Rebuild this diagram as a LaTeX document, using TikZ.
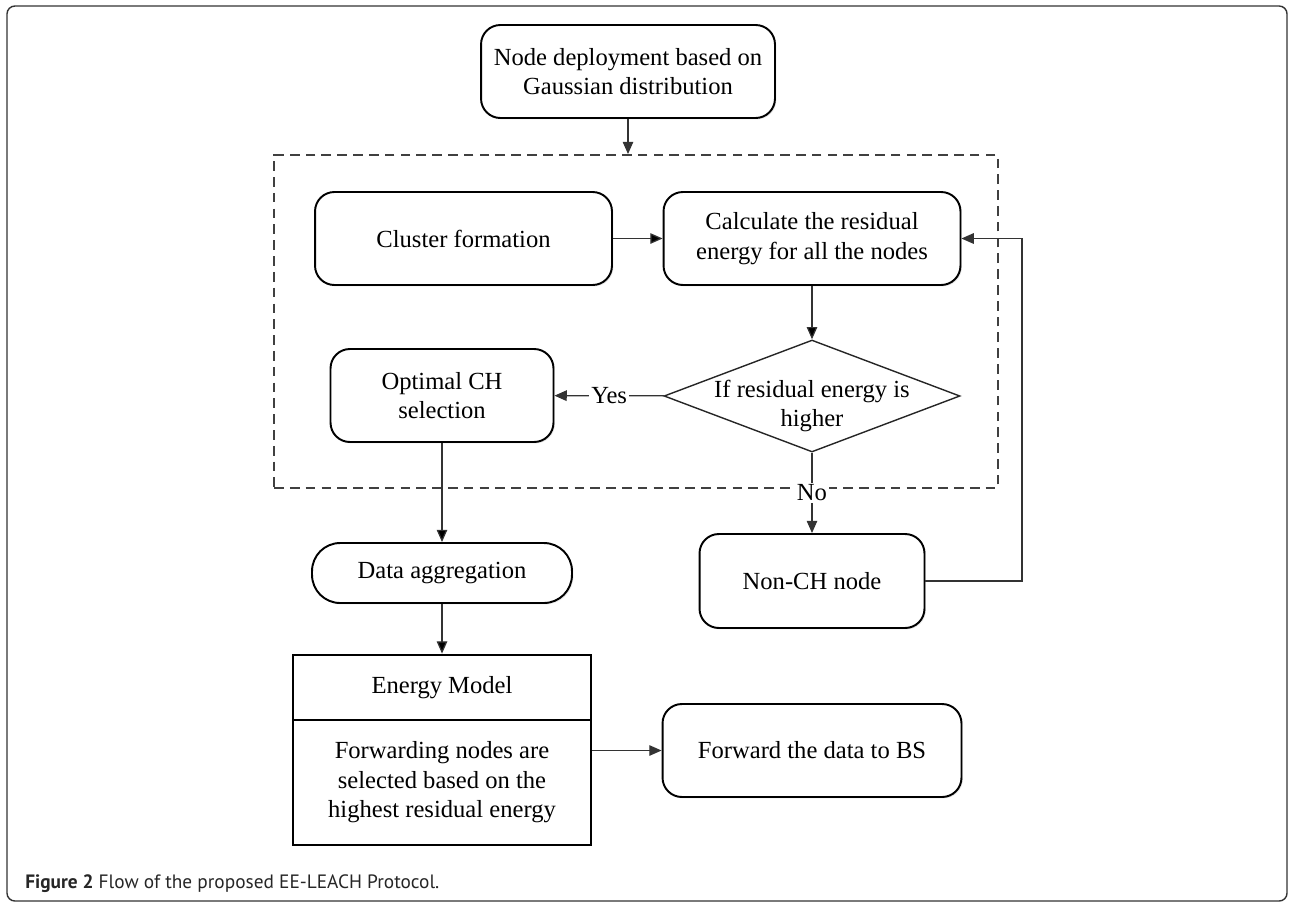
\documentclass[tikz,border=0pt]{standalone}
\usepackage{fontspec}
\setmainfont{Liberation Serif}
\newfontfamily\capfont{PT Sans}
\usetikzlibrary{arrows.meta, shapes.geometric, shadows}

\begin{document}
\begin{tikzpicture}[x = 0.02cm, y = -0.02cm, font = \fontsize{14}{16.8}\selectfont,
    >= {Triangle[length = 7pt, width = 6pt]},
    roundbox/.style = {draw, line width = 1.1pt, rounded corners = 11pt, align = center, fill = white,
                       drop shadow = {opacity = 0.2, shadow xshift = 0.8pt, shadow yshift = -0.8pt}},
    modelbox/.style = {draw, line width = 1.6pt, minimum width = 5.96cm, align = center, fill = white,
                       drop shadow = {opacity = 0.2, shadow xshift = 0.8pt, shadow yshift = -0.8pt}},
    decision/.style = {diamond, draw = black!85, line width = 0.8pt, inner sep = 0pt},
    link/.style = {->, line width = 0.7pt, draw = black!80},
    tag/.style = {fill = white, inner sep = 1pt}]
  \useasboundingbox (0,0) rectangle (1290,903);
  \draw[line width = 0.8pt, draw = black!80, rounded corners = 4.5pt] (7,6) rectangle (1287,901);

  \node[draw = black!75, line width = 1.1pt, dash pattern = on 5.5pt off 3.5pt,
        minimum width = 14.48cm, minimum height = 6.66cm] (loop) at (636,321.5) {};

  \node[roundbox, minimum width = 5.88cm, minimum height = 1.86cm] (deploy) at (628,71.5) {Node deployment based on\\Gaussian distribution};
  \node[roundbox, minimum width = 5.94cm, minimum height = 1.86cm] (cluster) at (463.5,238.5) {Cluster formation};
  \node[roundbox, minimum width = 5.94cm, minimum height = 1.86cm] (calc) at (812,238.5) {Calculate the residual\\energy for all the nodes};
  \node[decision, minimum width = 5.92cm, minimum height = 2.24cm] (decide) at (812,396) {};
  \node[align = center] (decidetext) at (812,406) {If residual energy is\\higher};
  \node[roundbox, minimum width = 4.46cm, minimum height = 1.86cm] (optimal) at (442,395.5) {Optimal CH\\selection};
  \node[roundbox, minimum width = 4.5cm, minimum height = 1.88cm] (nonch) at (812,581) {Non-CH node};
  \node[roundbox, rounded corners = 16pt, minimum width = 5.2cm, minimum height = 1.2cm] (dataagg) at (442,573) {Data aggregation};
  \node[modelbox, minimum height = 1.3cm] (emhead) at (442,687.5) {Energy Model};
  \node[modelbox, minimum height = 2.5cm] (embody) at (442,782.5) {Forwarding nodes are\\selected based on the\\highest residual energy};
  \node[roundbox, minimum width = 5.98cm, minimum height = 1.86cm] (forward) at (812,750.5) {Forward the data to BS};

  \coordinate (back) at (1022,400);
  \draw[link] (deploy.south) -- (deploy.south |- loop.north);
  \draw[link] (cluster) edge (calc)
              (calc) edge (decide)
              (optimal) edge (dataagg)
              (dataagg) edge (emhead);
  \draw[link] (decide) -- node[tag] (yes) {Yes} (optimal);
  \draw[link] (decide) -- node[tag] (no) {No} (nonch);
  \draw[link] (nonch.east) -| (back) |- (calc.east);
  \draw[link] (forward.west -| embody.east) -- (forward.west);

  \node[anchor = base west, inner sep = 0pt, text = black!85, font = \capfont\fontsize{11}{13}\selectfont]
    (caption) at (25,888) {\textbf{Figure 2} Flow of the proposed EE-LEACH Protocol.};
\end{tikzpicture}
\end{document}
